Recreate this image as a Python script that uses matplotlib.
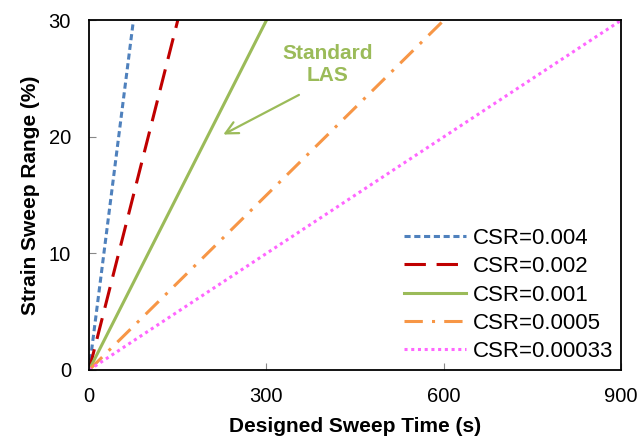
import matplotlib
matplotlib.use("Agg")
import matplotlib.pyplot as plt

# sweep end points: (time s, strain %)
csr_labels = ["CSR=0.004", "CSR=0.002", "CSR=0.001", "CSR=0.0005", "CSR=0.00033"]
sweep_time = [[0, 75], [0, 150], [0, 300], [0, 600], [0, 900]]
strain_range = [[0, 30], [0, 30], [0, 30], [0, 30], [0, 30]]

colors = ["#4F81BD", "#C00000", "#9BBB59", "#F79646", "#FF66FF"]
styles = [(0, (2, 1.2)), (0, (7, 3.5)), "-", (0, (6, 3, 1, 3)), (0, (1, 1.2))]

plt.rcParams["font.family"] = ["Liberation Sans", "DejaVu Sans"]

fig = plt.figure(figsize=(6.41, 4.41), dpi=100)
ax = fig.add_axes([0.139, 0.161, 0.830, 0.793])

for t, s, lab, c, ls in zip(sweep_time, strain_range, csr_labels, colors, styles):
    ax.plot(t, s, color=c, linestyle=ls, linewidth=2.2, label=lab)

ax.set_xlim(0, 900)
ax.set_ylim(0, 30)
ax.set_xticks([0, 300, 600, 900])
ax.set_yticks([0, 10, 20, 30])
ax.tick_params(direction="in", length=5, labelsize=14.5, color="#888888")
ax.tick_params(axis="y", pad=13)
ax.tick_params(axis="x", pad=12)
ax.set_xlabel("Designed Sweep Time (s)", fontsize=15, fontweight="bold", labelpad=8)
ax.set_ylabel("Strain Sweep Range (%)", fontsize=15, fontweight="bold", labelpad=6)
for sp in ax.spines.values():
    sp.set_linewidth(1.3)

green = "#9BBB59"
ax.text(404, 26.2, "Standard\nLAS", color=green, fontsize=15, fontweight="bold",
        ha="center", va="center", linespacing=1.15)
ax.annotate("", xy=(227, 20.2), xytext=(355, 23.6),
            arrowprops=dict(arrowstyle="->", color=green, lw=1.6,
                            shrinkA=0, shrinkB=0, mutation_scale=22))

ax.legend(loc="lower right", frameon=False, fontsize=16, handlelength=2.8,
          handletextpad=0.3, labelspacing=0.33, borderaxespad=0.1, borderpad=0.25)

fig.savefig("out.png", dpi=100)
